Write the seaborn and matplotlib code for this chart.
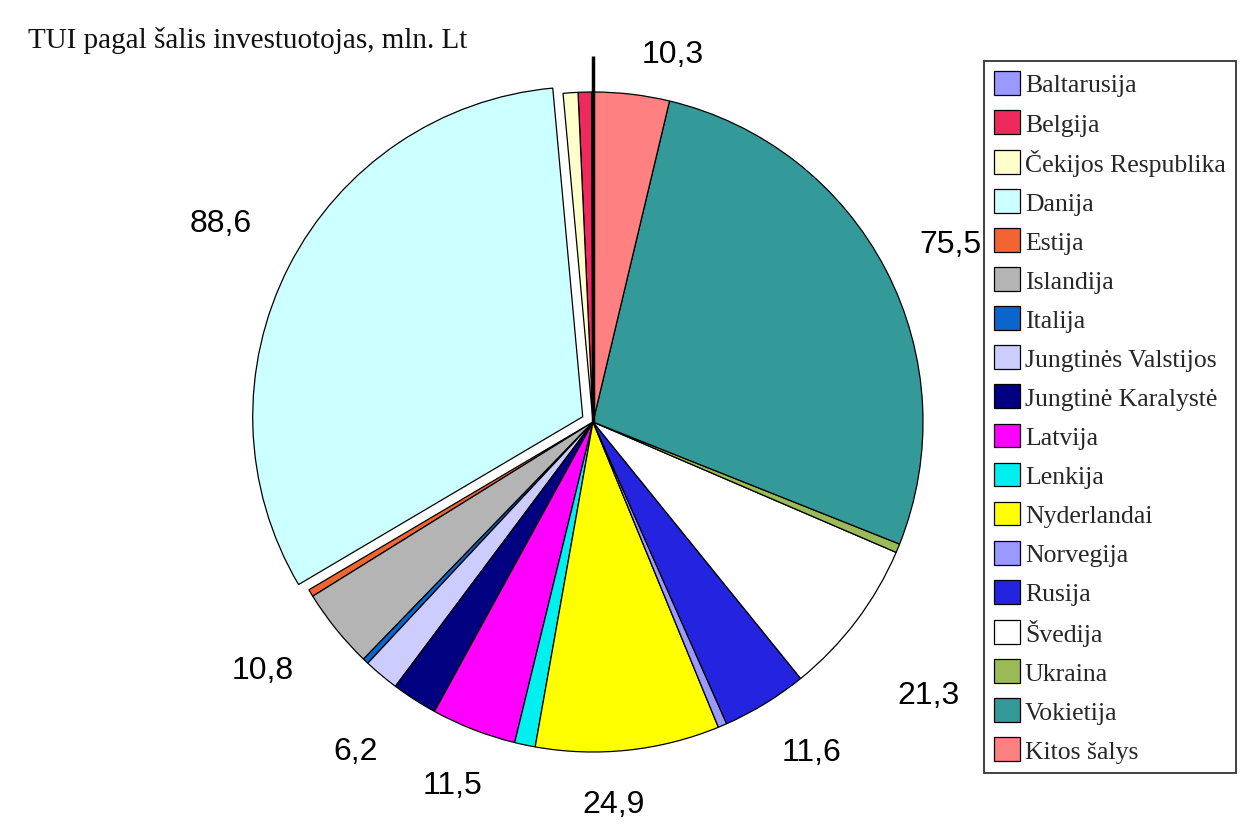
import numpy as np
import matplotlib.pyplot as plt
import seaborn as sns

countries = ['Baltarusija', 'Belgija', 'Čekijos Respublika', 'Danija', 'Estija',
             'Islandija', 'Italija', 'Jungtinės Valstijos', 'Jungtinė Karalystė',
             'Latvija', 'Lenkija', 'Nyderlandai', 'Norvegija', 'Rusija', 'Švedija',
             'Ukraina', 'Vokietija', 'Kitos šalys']
values = [0.2, 1.8, 2.0, 88.6, 1.0, 10.8, 0.8, 4.8, 6.2, 11.5, 2.8, 24.9,
          1.2, 11.6, 21.3, 1.2, 75.5, 10.3]
value_labels = ['', '', '', '88,6', '', '10,8', '', '', '6,2', '11,5', '', '24,9',
                '', '11,6', '21,3', '', '75,5', '10,3']
colors = ['#9999FF', '#EE2A5C', '#FFFFCC', '#CCFFFF', '#F26430', '#B4B4B4',
          '#0A66CC', '#CCCCFF', '#000080', '#FF00FF', '#00F0F0', '#FFFF00',
          '#9999FF', '#2424E0', '#FFFFFF', '#9BBB59', '#339999', '#FF8080']

sns.set_style('white')
plt.rcParams['font.family'] = ['Liberation Sans', 'DejaVu Sans']

W, H = 1260, 828
fig = plt.figure(figsize=(W / 100, H / 100), dpi=100)
fig.patch.set_facecolor('white')

# pie centre and radius in pixels
cx, cy, R = 593, 423, 330
S = 400
ax = fig.add_axes([(cx - S) / W, (H - cy - S) / H, 2 * S / W, 2 * S / H])
lim = S / R

explode = [0.035 if c == 'Danija' else 0 for c in countries]
wedges, _ = ax.pie(values, colors=colors, startangle=90, counterclock=True,
                   explode=explode, radius=1,
                   wedgeprops=dict(edgecolor='black', linewidth=0.9))
ax.set_xlim(-lim, lim)
ax.set_ylim(-lim, lim)
ax.axis('off')

# the thick leader line on top
top = np.deg2rad(wedges[0].theta1)
ax.plot([0, 1.11 * np.cos(top)], [0, 1.11 * np.sin(top)], color='black', lw=2.5,
        solid_capstyle='butt')

# label placement: radial distance and angle nudge (degrees)
label_r = {'Danija': 1.28, 'Islandija': 1.25, 'Jungtinė Karalystė': 1.23,
           'Latvija': 1.18, 'Nyderlandai': 1.16, 'Rusija': 1.2, 'Švedija': 1.31,
           'Vokietija': 1.21, 'Kitos šalys': 1.14}
label_da = {'Danija': -1, 'Islandija': -2, 'Jungtinė Karalystė': -3, 'Latvija': 0,
            'Nyderlandai': -3, 'Rusija': 2, 'Švedija': -2, 'Vokietija': -1,
            'Kitos šalys': -5.6}

for w, c, lab in zip(wedges, countries, value_labels):
    if not lab:
        continue
    th = np.deg2rad((w.theta1 + w.theta2) / 2 + label_da[c])
    r = label_r[c]
    ax.text(r * np.cos(th), r * np.sin(th), lab, ha='center', va='center',
            fontsize=23, color='black')

fig.text(28 / W, 1 - 40 / H, 'TUI pagal šalis investuotojas, mln. Lt',
         fontsize=21, family='Liberation Serif', ha='left', va='center',
         color='#111111')

fs = 18.5
px = fs * 100 / 72
leg = fig.legend(wedges, countries, loc='upper left',
                 bbox_to_anchor=(984 / W, 1 - 62 / H),
                 prop={'family': 'Liberation Serif', 'size': fs},
                 frameon=True, fancybox=False, edgecolor='black',
                 handlelength=26 / px, handleheight=27 / px, handletextpad=0.2,
                 labelspacing=0.52, borderpad=0.38, borderaxespad=0)
leg.get_frame().set_linewidth(1.3)

fig.savefig('out.png', dpi=100, facecolor='white')
